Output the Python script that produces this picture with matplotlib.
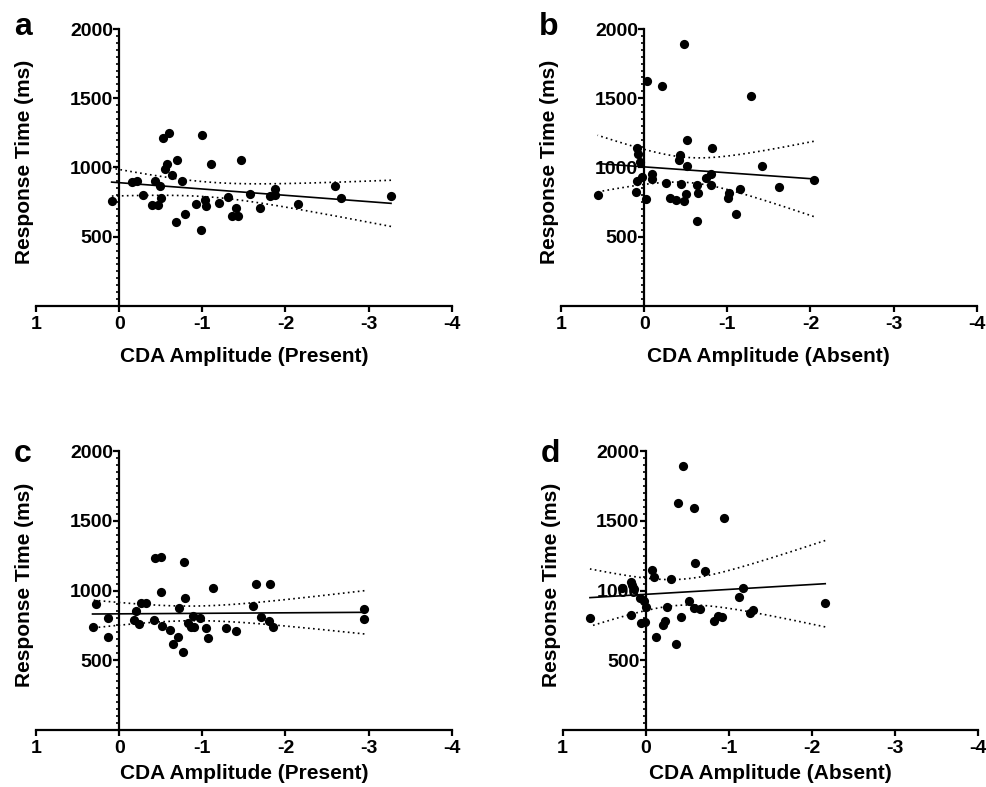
import numpy as np
import matplotlib.pyplot as plt

plt.rcParams['font.family'] = ['Liberation Sans', 'DejaVu Sans']
plt.rcParams['font.weight'] = 'bold'
plt.rcParams['axes.unicode_minus'] = False

# a: CDA amplitude (present) vs RT
a_x = [0.09, -0.16, -0.22, -0.29, -0.40, -0.47, -0.43, -0.49, -0.505, -0.525,
       -0.605, -0.55, -0.57, -0.63, -0.69, -0.76, -0.68, -0.79, -1.00, -0.93,
       -1.03, -1.05, -0.99, -1.10, -1.20, -1.31, -1.36, -1.43, -1.41, -1.47,
       -1.57, -1.70, -1.81, -1.87, -1.88, -2.15, -2.60, -2.67, -3.27]
a_y = [758, 894, 906, 799, 731, 731, 904, 870, 782, 1210,
       1247, 989, 1028, 948, 1052, 906, 609, 663, 1237, 736,
       768, 721, 551, 1023, 741, 785, 653, 653, 709, 1052,
       811, 706, 797, 848, 802, 733, 863, 780, 792]

# b: CDA amplitude (absent) vs RT
b_x = [0.56, 0.08, 0.07, 0.05, 0.03, 0.10, 0.08, -0.02, -0.04, -0.21,
       -0.10, -0.10, -0.26, -0.31, -0.38, -0.44, -0.43, -0.42, -0.48, -0.51,
       -0.51, -0.50, -0.48, -0.63, -0.65, -0.63, -0.75, -0.81, -0.80, -0.82,
       -1.02, -1.01, -1.15, -1.11, -1.28, -1.42, -1.62, -2.04]
b_y = [801, 1144, 1096, 1041, 933, 823, 899, 772, 1625, 1587,
       952, 916, 887, 782, 765, 883, 1089, 1057, 1895, 1199,
       1009, 811, 756, 871, 816, 617, 926, 950, 871, 1141,
       818, 782, 842, 665, 1517, 1014, 856, 912]

# c: CDA amplitude (present) vs RT
c_x = [0.32, 0.28, 0.13, 0.13, -0.18, -0.20, -0.24, -0.26, -0.32, -0.42,
       -0.43, -0.50, -0.50, -0.51, -0.61, -0.65, -0.71, -0.72, -0.77, -0.78,
       -0.79, -0.83, -0.86, -0.90, -0.89, -0.97, -1.05, -1.07, -1.13, -1.28,
       -1.40, -1.61, -1.65, -1.71, -1.80, -1.81, -1.85, -2.95, -2.95]
c_y = [739, 903, 803, 669, 786, 853, 760, 907, 907, 791,
       1231, 1238, 989, 748, 717, 619, 664, 871, 557, 1205,
       948, 769, 736, 741, 817, 800, 734, 657, 1021, 729,
       712, 891, 1050, 807, 784, 1050, 741, 864, 793]

# d: CDA amplitude (absent) vs RT
d_x = [0.67, 0.285, 0.18, 0.16, 0.14, 0.07, 0.02, 0.00, 0.18, 0.06,
       0.01, -0.08, -0.10, -0.12, -0.21, -0.23, -0.26, -0.31, -0.37, -0.39,
       -0.42, -0.445, -0.52, -0.58, -0.65, -0.585, -0.59, -0.71, -0.82, -0.87,
       -0.92, -0.945, -1.12, -1.17, -1.25, -1.29, -2.16]
d_y = [802, 1018, 1061, 1037, 1013, 949, 924, 884, 821, 769,
       773, 1145, 1100, 668, 756, 783, 884, 1085, 617, 1625,
       812, 1896, 927, 871, 869, 1589, 1198, 1140, 783, 816,
       812, 1522, 951, 1015, 840, 857, 913]

# letter, x, y, xlabel, [left px, bottom px, height px, letter baseline px from top, xlabel y]
panels = [
    ('a', a_x, a_y, 'CDA Amplitude (Present)', [36, 481, 277, 35, -0.148]),
    ('b', b_x, b_y, 'CDA Amplitude (Absent)', [561, 481, 277, 35, -0.148]),
    ('c', c_x, c_y, 'CDA Amplitude (Present)', [36, 57, 279, 462, -0.122]),
    ('d', d_x, d_y, 'CDA Amplitude (Absent)', [562.5, 57, 279, 462, -0.122]),
]
xticks = [1, 0, -1, -2, -3, -4]
W, H = 987, 787


def fit_band(x, y):
    x = np.asarray(x, float)
    y = np.asarray(y, float)
    n = len(x)
    slope, icpt = np.polyfit(x, y, 1)
    xs = np.linspace(x.min(), x.max(), 200)
    yhat = icpt + slope * xs
    resid = y - (icpt + slope * x)
    s = np.sqrt(np.sum(resid ** 2) / (n - 2))
    sxx = np.sum((x - x.mean()) ** 2)
    se = s * np.sqrt(1 / n + (xs - x.mean()) ** 2 / sxx)
    z = 1.96
    t = z + (z ** 3 + z) / (4 * (n - 2))  # approx t(0.975, n-2)
    return xs, yhat, yhat - t * se, yhat + t * se


fig = plt.figure(figsize=(W / 100, H / 100), dpi=100)

for letter, xv, yv, xlab, (left, bottom, h, base, ly) in panels:
    ax = fig.add_axes([left / W, bottom / H, 415.7 / W, h / H])
    xs, yhat, lo, hi = fit_band(xv, yv)
    ax.plot(xs, yhat, color='black', lw=1.2, zorder=2)
    ax.plot(xs, lo, color='black', lw=1.2, ls=(0, (1, 2)), zorder=2)
    ax.plot(xs, hi, color='black', lw=1.2, ls=(0, (1, 2)), zorder=2)
    ax.scatter(xv, yv, s=44, color='black', zorder=3, clip_on=False, linewidths=0)

    ax.set_xlim(1, -4)
    ax.set_ylim(0, 2000)
    ax.spines['top'].set_visible(False)
    ax.spines['right'].set_visible(False)
    ax.spines['left'].set_position(('data', 0))
    for sp in ('left', 'bottom'):
        ax.spines[sp].set_linewidth(1.6)
    ax.set_xticks(xticks)
    ax.set_xticklabels([str(v) for v in xticks])
    ax.set_yticks([500, 1000, 1500, 2000])
    ax.set_yticks(np.arange(0, 2001, 50), minor=True)
    ax.tick_params(axis='both', which='major', labelsize=14, width=1.6, length=4)
    ax.tick_params(axis='y', which='major', pad=0.5)
    ax.tick_params(axis='x', which='major', pad=3)
    ax.tick_params(axis='y', which='minor', width=1.2, length=2)
    ax.tick_params(axis='x', which='minor', bottom=False)
    ax.set_xlabel(xlab, fontsize=15, fontweight='bold')
    ax.xaxis.set_label_coords(0.5, ly)
    ax.patch.set_alpha(0)

    fig.text((left - 11) / W, (bottom + 0.52 * h) / H, 'Response Time (ms)', rotation=90,
             ha='center', va='center', fontsize=15, fontweight='bold')
    fig.text((left - 22) / W, 1 - base / H, letter,
             fontsize=23, fontweight='bold', va='baseline', ha='left')

fig.savefig('out.png', dpi=100)
